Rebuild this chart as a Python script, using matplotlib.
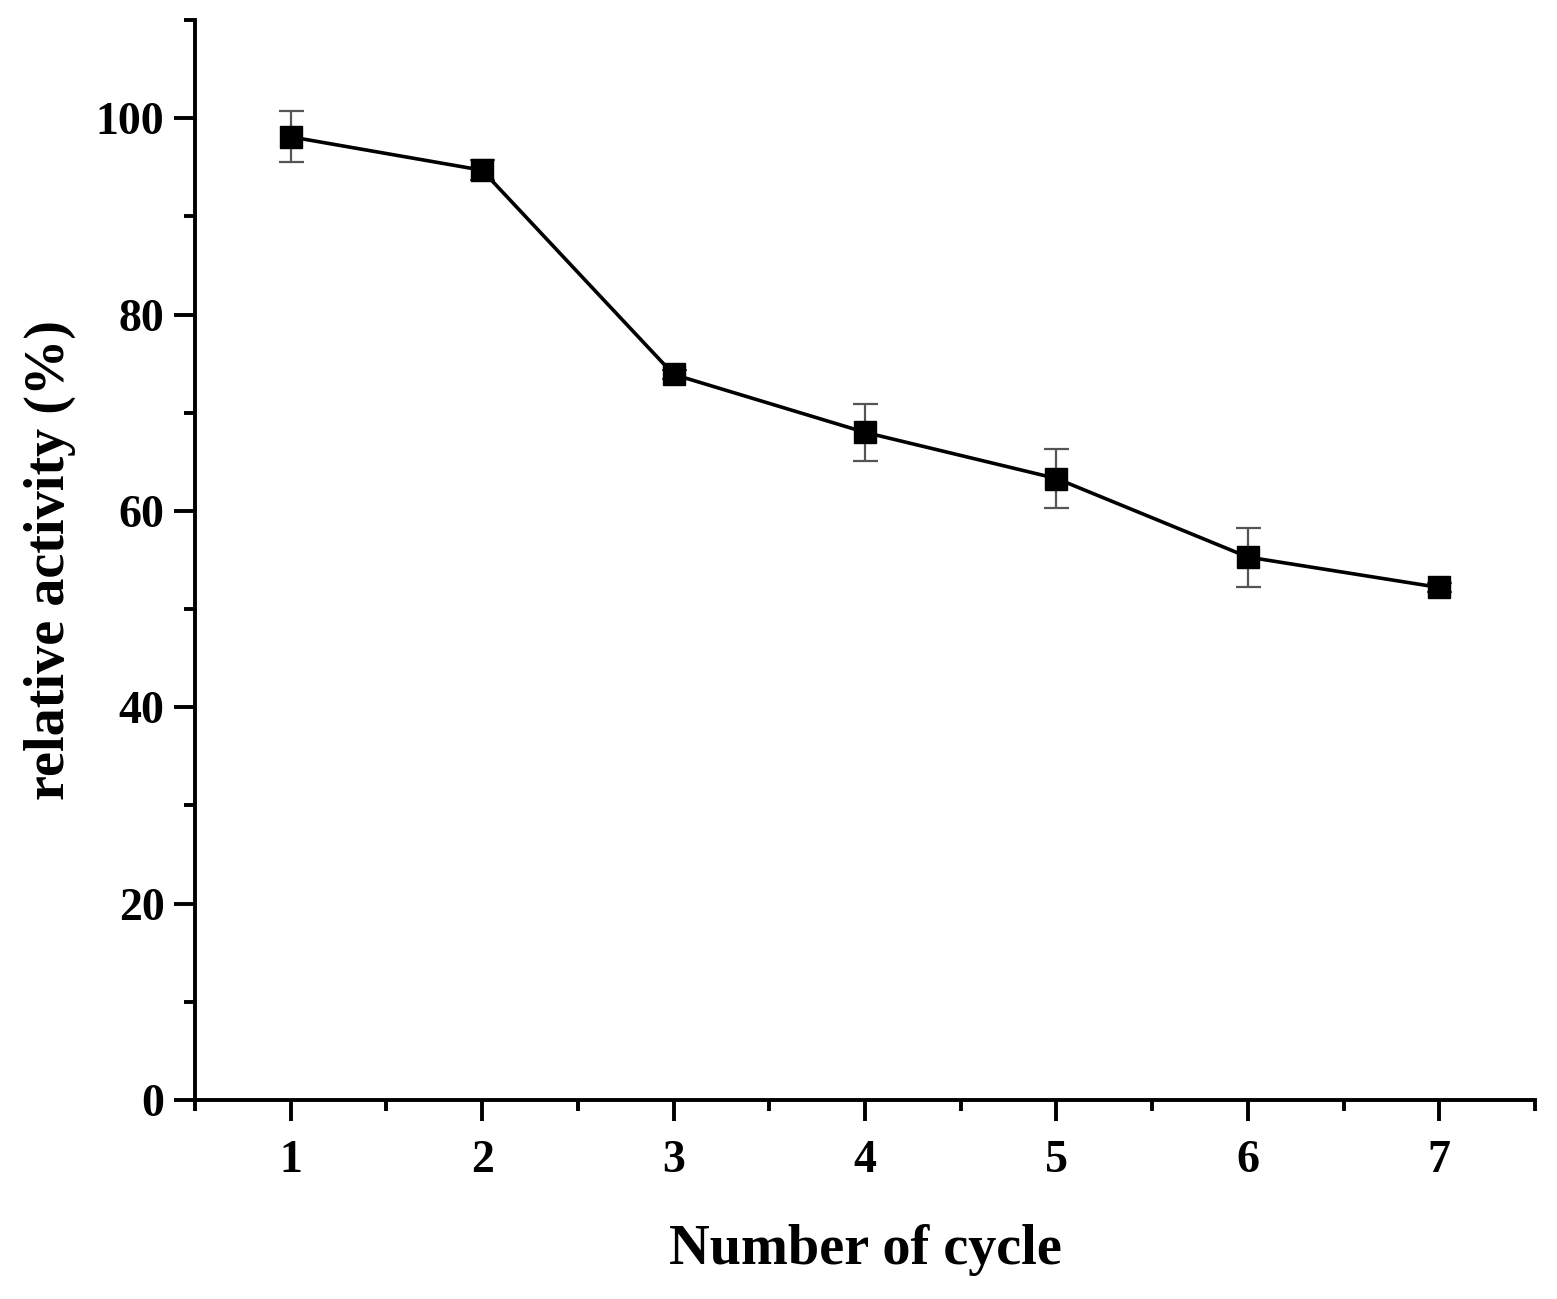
import numpy as np
import matplotlib
matplotlib.use('Agg')
import matplotlib.pyplot as plt
from matplotlib.ticker import MultipleLocator

# data
cycles = [1, 2, 3, 4, 5, 6, 7]
activity = [98.1, 94.7, 73.9, 68.0, 63.3, 55.3, 52.2]
errors = [2.6, 1.0, 0.5, 2.9, 3.0, 3.0, 0.5]

plt.rcParams['font.family'] = ['Liberation Serif', 'DejaVu Serif']
plt.rcParams['font.weight'] = 'bold'

fig = plt.figure(figsize=(15.57, 12.99), dpi=100)
ax = fig.add_axes([0.1252, 0.1532, 0.8607, 0.8314])

ax.errorbar(cycles, activity, yerr=errors, fmt='none', ecolor='#555555',
            elinewidth=1.6, capsize=9, capthick=1.6, zorder=2)
ax.plot(cycles, activity, color='black', lw=2.6, marker='s', ms=16,
        mfc='black', mec='black', zorder=3)

ax.set_xlim(0.5, 7.5)
ax.set_ylim(0, 110)
ax.xaxis.set_major_locator(MultipleLocator(1))
ax.xaxis.set_minor_locator(MultipleLocator(0.5))
ax.yaxis.set_minor_locator(MultipleLocator(10))
ax.set_yticks([0, 20, 40, 60, 80, 100])

for s in ['top', 'right']:
    ax.spines[s].set_visible(False)
for s in ['left', 'bottom']:
    ax.spines[s].set_linewidth(2.8)

ax.tick_params(which='major', direction='out', length=15, width=2.8, labelsize=33)
ax.tick_params(axis='x', which='major', pad=14)
ax.tick_params(axis='y', which='major', pad=7)
ax.tick_params(which='minor', direction='out', length=8, width=2.8)
for lab in ax.get_xticklabels() + ax.get_yticklabels():
    lab.set_fontweight('bold')

ax.set_xlabel('Number of cycle', fontsize=40.5, fontweight='bold', labelpad=30)
ax.set_ylabel('relative activity (%)', fontsize=40.5, fontweight='bold', labelpad=14)

fig.savefig('out.png', dpi=100)
